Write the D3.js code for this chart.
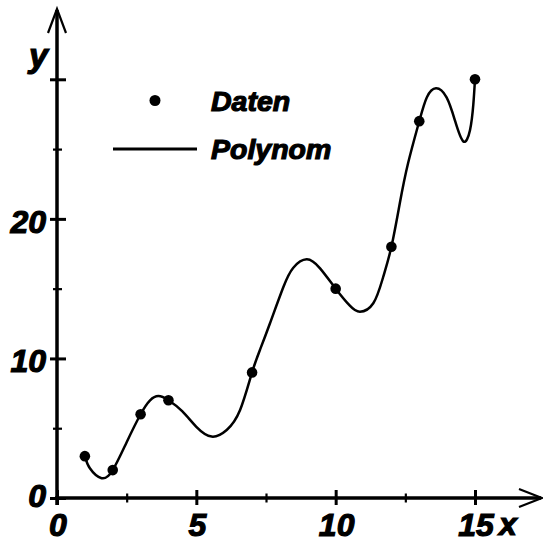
<!DOCTYPE html>
<html>
<head>
<meta charset="utf-8">
<script src="https://cdn.jsdelivr.net/npm/d3@7"></script>
<style>
  body { margin:0; background:#fff; }
  text { font-family:"Liberation Sans", Arial, sans-serif; font-weight:bold; font-style:italic; fill:#000; stroke:#000; stroke-width:1.2px; }
</style>
</head>
<body>
<div id="chart"></div>
<script>
// data points
var xData = [1, 2, 3, 4, 7, 10, 12, 13, 15];
var yData = [3, 2, 6, 7, 9, 15, 18, 27, 30];

// polynomial curve
var curveX = [1, 1.18, 1.6, 2, 2.5, 3, 3.34, 3.64, 4, 4.5, 5, 5.55, 6.09, 6.57, 7, 7.3, 7.64, 8.12, 8.48, 8.96, 9.44, 10, 10.5, 10.87, 11.35, 11.7, 12, 12.3, 12.6, 13, 13.27, 13.6, 13.98, 14.28, 14.58, 14.82, 14.94, 15];
var curveY = [3, 2.13, 1.42, 2, 4.0, 6, 7.0, 7.3, 7, 6.2, 5.1, 4.4, 4.87, 6.3, 9, 10.7, 12.5, 15.1, 16.5, 17.1, 16.45, 15, 13.8, 13.35, 13.95, 15.8, 18, 21.1, 24, 27, 28.7, 29.35, 28.7, 27.05, 25.55, 26.35, 28.2, 30];

// ticks
var xTicks = [0, 5, 10, 15];
var xMinor = [2.5, 7.5, 12.5];
var yTicks = [0, 10, 20, 30];
var yMinor = [5, 15, 25];
var yLabels = [0, 10, 20];

var legendLabels = ['Daten', 'Polynom'];

var width = 543, height = 542;

var svg = d3.select('#chart')
    .append('svg')
    .attr('width', width)
    .attr('height', height);

var xScale = d3.scaleLinear().domain([0, 15]).range([57, 475]);
var yScale = d3.scaleLinear().domain([0, 30]).range([498, 79.3]);

// ticks drawn with d3 axes, crossing the axis lines
function tickAxis(axis, pos, sw) {
    var g = svg.append('g').attr('transform', pos).call(axis);
    g.select('.domain').remove();
    g.selectAll('.tick text').remove();
    g.selectAll('.tick line').attr('stroke', '#000').attr('stroke-width', sw);
    return g;
}

tickAxis(d3.axisBottom(xScale).tickValues(xTicks).tickSize(15), 'translate(0,490)', 3);
tickAxis(d3.axisBottom(xScale).tickValues(xMinor).tickSize(9), 'translate(0,493.5)', 2.2);
tickAxis(d3.axisLeft(yScale).tickValues(yTicks).tickSize(16), 'translate(66,0)', 3);
tickAxis(d3.axisLeft(yScale).tickValues(yMinor).tickSize(9), 'translate(62,0)', 2.2);

// axis lines
svg.append('line').attr('x1', 55).attr('x2', 541).attr('y1', 498).attr('y2', 498)
    .attr('stroke', '#000').attr('stroke-width', 3.5);
svg.append('line').attr('x1', 57).attr('x2', 57).attr('y1', 10).attr('y2', 505)
    .attr('stroke', '#000').attr('stroke-width', 3.5);

// arrows
svg.append('path').attr('d', 'M48,33 L57,9 L66,33')
    .attr('fill', 'none').attr('stroke', '#000').attr('stroke-width', 2.2);
svg.append('path').attr('d', 'M519,489 L542,498 L519,507')
    .attr('fill', 'none').attr('stroke', '#000').attr('stroke-width', 2.2);

// tick labels
svg.selectAll('.xlab')
    .data(xTicks)
    .enter()
    .append('text')
    .attr('x', function(d) { return xScale(d) + 1; })
    .attr('y', 536)
    .attr('text-anchor', 'middle')
    .style('font-size', '32px')
    .text(function(d) { return d; });

svg.selectAll('.ylab')
    .data(yLabels)
    .enter()
    .append('text')
    .attr('x', 46)
    .attr('y', function(d) { return yScale(d) + (d === 0 ? 9 : 14); })
    .attr('text-anchor', 'end')
    .style('font-size', '32px')
    .text(function(d) { return d; });

svg.append('text').attr('x', 29).attr('y', 67).style('font-size', '34px').text('y');
svg.append('text').attr('x', 499).attr('y', 535).style('font-size', '32px').text('x');

// polynomial curve
var pts = curveX.map(function(d, i) { return [d, curveY[i]]; });
var line = d3.line()
    .x(function(d) { return xScale(d[0]); })
    .y(function(d) { return yScale(d[1]); })
    .curve(d3.curveNatural);

svg.append('path')
    .attr('d', line(pts))
    .attr('fill', 'none')
    .attr('stroke', '#000')
    .attr('stroke-width', 2.5);

// data points
svg.selectAll('.dot')
    .data(xData)
    .enter()
    .append('circle')
    .attr('cx', function(d) { return xScale(d); })
    .attr('cy', function(d, i) { return yScale(yData[i]); })
    .attr('r', 5.3)
    .attr('fill', '#000');

// legend
svg.append('circle').attr('cx', 155).attr('cy', 100.5).attr('r', 5.5).attr('fill', '#000');
svg.append('line').attr('x1', 113).attr('x2', 197).attr('y1', 149).attr('y2', 149)
    .attr('stroke', '#000').attr('stroke-width', 3);
svg.selectAll('.leg')
    .data(legendLabels)
    .enter()
    .append('text')
    .attr('x', 211)
    .attr('y', function(d, i) { return 111 + i * 48; })
    .style('font-size', '28.5px')
    .text(function(d) { return d; });
</script>
</body>
</html>
